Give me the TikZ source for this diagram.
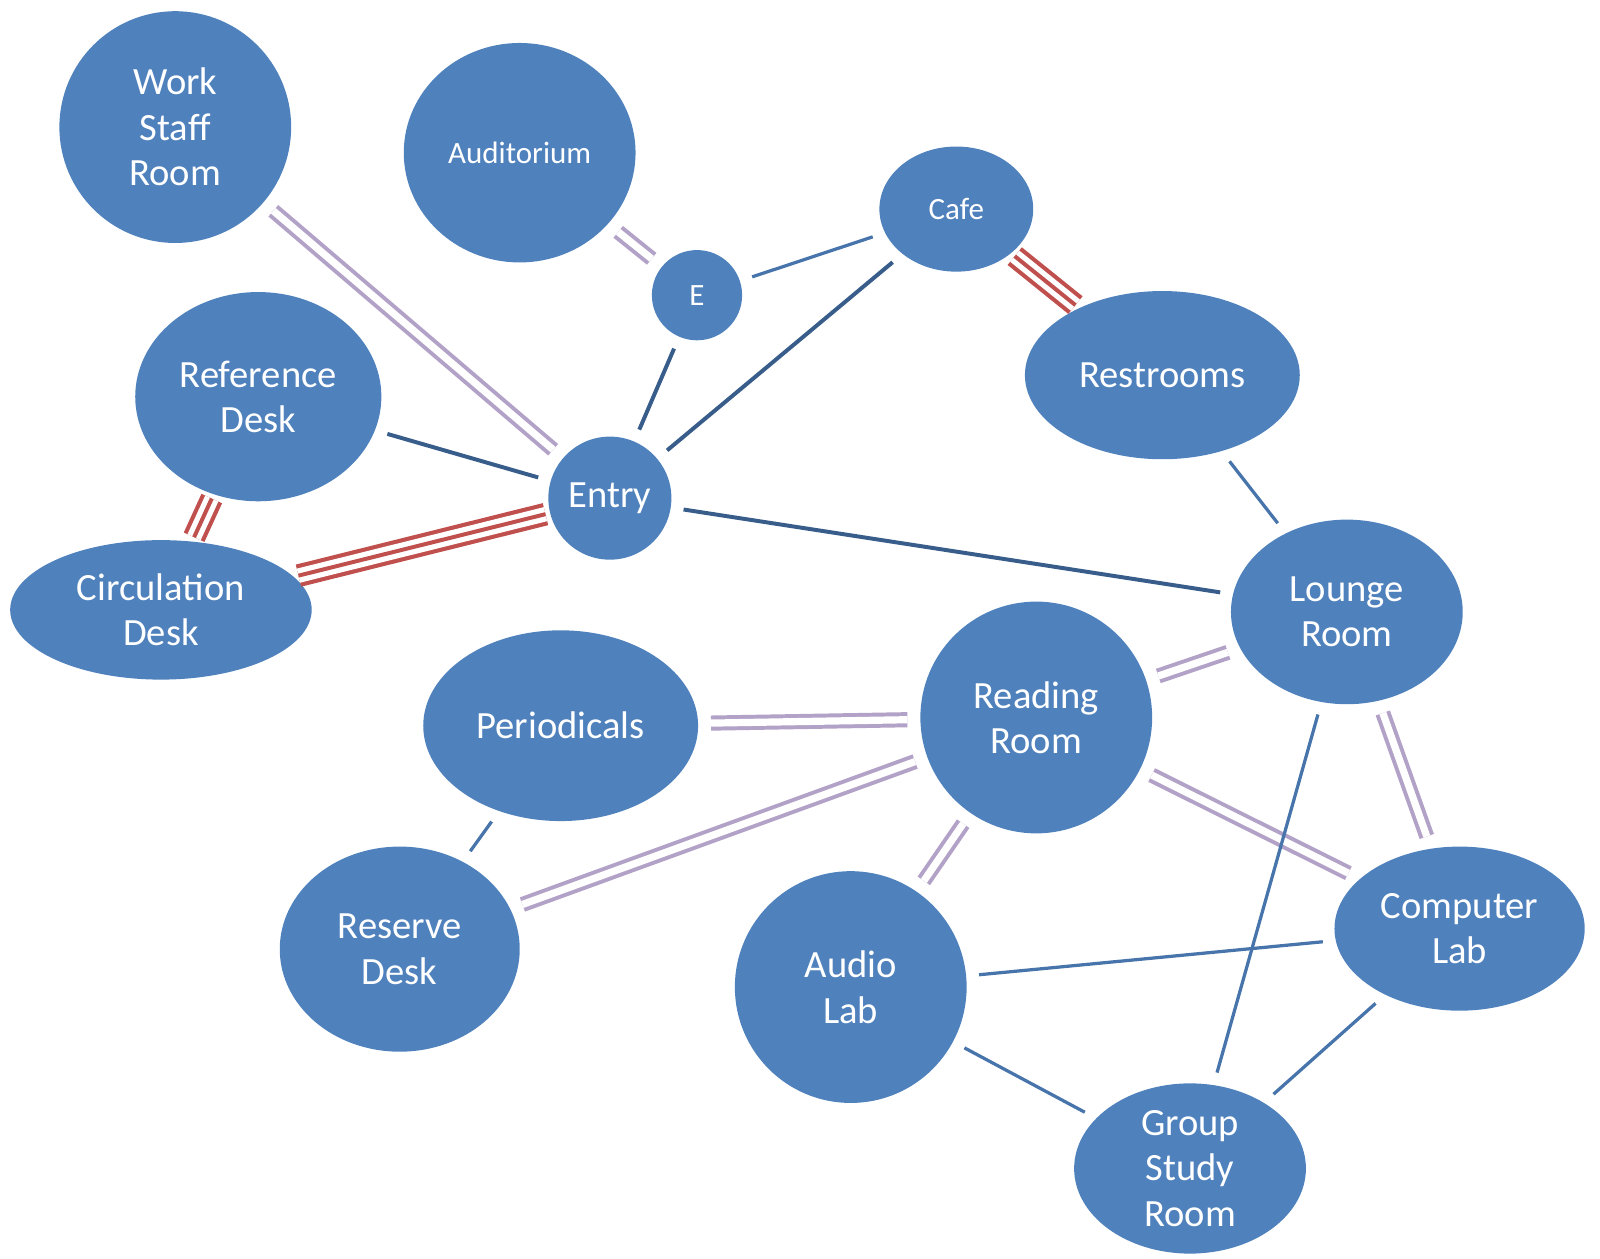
\documentclass[tikz,border=0pt]{standalone}
\usepackage{fontspec}
\setmainfont{Carlito}
\usetikzlibrary{shapes.geometric}
\definecolor{nodeblue}{HTML}{4F81BD}
\definecolor{darkblue}{HTML}{385D8A}
\definecolor{lav}{HTML}{B3A2C7}
\definecolor{redl}{HTML}{C0504D}
\begin{document}
\begin{tikzpicture}[x=0.01cm,y=-0.01cm,
  room/.style={ellipse,fill=nodeblue,text=white,align=center,inner sep=0pt,
    font=\fontsize{10.7}{12.6}\selectfont},
  small/.style={font=\fontsize{8.6}{10}\selectfont},
  gap/.style={shorten >=0.12cm,shorten <=0.12cm},
  sb/.style={gap,draw=nodeblue!90!black,line width=0.9pt},
  db/.style={gap,draw=darkblue,line width=1.1pt},
  dbl/.style={gap,draw=lav,double=white,double distance=2pt,line width=1.1pt},
  tri/.style={shorten >=0.04cm,shorten <=0.04cm,draw=redl,line width=6.3pt,
    postaction={draw=white,line width=4pt,shorten >=0.04cm,shorten <=0.04cm},
    postaction={draw=redl,line width=1.1pt,shorten >=0.04cm,shorten <=0.04cm}}]
\useasboundingbox (0,0) rectangle (1561,1228);
\node[room,minimum width=2.26cm,minimum height=2.26cm] (work) at (171,124) {Work\\Staff\\Room};
\node[room,small,minimum width=2.26cm,minimum height=2.14cm] (aud) at (507,149) {Auditorium};
\node[room,small,minimum width=1.5cm,minimum height=1.22cm] (cafe) at (933,204) {Cafe};
\node[room,small,minimum width=0.88cm,minimum height=0.88cm] (e) at (680,288) {E};
\node[room,minimum width=2.4cm,minimum height=2.04cm] (ref) at (252,387) {Reference\\Desk};
\node[room,minimum width=2.68cm,minimum height=1.64cm] (rest) at (1134,366) {Restrooms};
\node[room,minimum width=1.2cm,minimum height=1.2cm] (entry) at (595,486) {Entry};
\node[room,minimum width=2.94cm,minimum height=1.36cm] (circ) at (157,595) {Circulation\\Desk};
\node[room,minimum width=2.26cm,minimum height=1.8cm] (lounge) at (1314,597) {Lounge\\Room};
\node[room,minimum width=2.68cm,minimum height=1.86cm] (per) at (547,708) {Periodicals};
\node[room,minimum width=2.26cm,minimum height=2.26cm] (read) at (1011,700) {Reading\\Room};
\node[room,minimum width=2.34cm,minimum height=2cm] (res) at (390,926) {Reserve\\Desk};
\node[room,minimum width=2.44cm,minimum height=1.6cm] (comp) at (1424,906) {Computer\\Lab};
\node[room,minimum width=2.26cm,minimum height=2.26cm] (audio) at (830,963) {Audio\\Lab};
\node[room,minimum width=2.26cm,minimum height=1.66cm] (group) at (1161,1140) {Group\\Study\\Room};

\draw[dbl] (work) -- (entry);
\draw[dbl] (aud) -- (e);
\draw[sb] (e) -- (cafe);
\draw[db] (e) -- (entry);
\draw[db] (cafe) -- (entry);
\draw[tri] (cafe) -- (rest);
\draw[db] (ref) -- (entry);
\draw[tri] (ref) -- (circ);
\draw[tri] (circ) -- (entry);
\draw[db] (entry) -- (lounge);
\draw[sb] (rest) -- (lounge);
\draw[dbl] (per) -- (read);
\draw[dbl] (read) -- (lounge);
\draw[sb] (per) -- (res);
\draw[dbl] (res) -- (read);
\draw[dbl] (read) -- (audio);
\draw[dbl] (read) -- (comp);
\draw[dbl] (lounge) -- (comp);
\draw[sb] (lounge) -- (group);
\draw[sb] (audio) -- (comp);
\draw[sb] (audio) -- (group);
\draw[sb] (comp) -- (group);
\end{tikzpicture}
\end{document}
